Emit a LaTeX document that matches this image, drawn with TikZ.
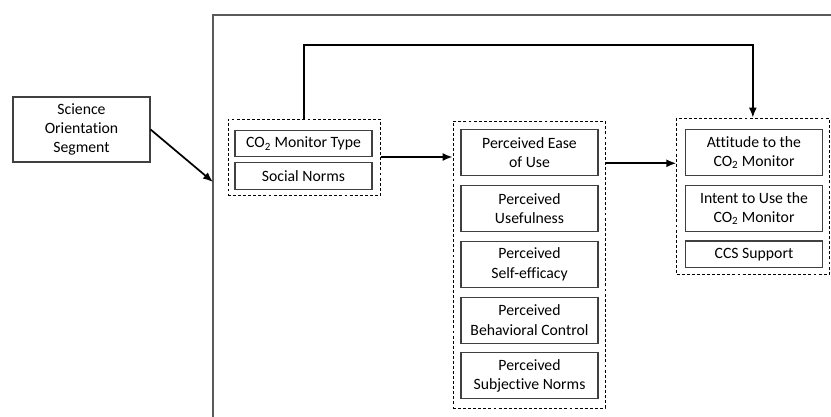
\documentclass[tikz,border=0pt]{standalone}
\usepackage{fontspec}
\setmainfont{Carlito}[Ligatures=NoCommon]
\usetikzlibrary{arrows.meta,fit}

\begin{document}
\begin{tikzpicture}[x=0.75pt,y=-0.75pt,
    box/.style={draw=black!75,line width=0.8pt,align=center,inner sep=0pt,
      minimum width=102.75pt,font=\fontsize{11.8}{14.3}\selectfont},
    flat/.style={box,minimum height=20pt},
    tall/.style={box,minimum height=34.5pt},
    grp/.style={draw,dashed,dash pattern=on 2.2pt off 1.6pt,line width=0.6pt,inner sep=0pt},
    arr/.style={line width=1.3pt,-{Latex[length=7.5pt,width=6pt]}}]
  \useasboundingbox (0,0) rectangle (831,417);
  % outer frame
  \draw[black!65,line width=0.9pt] (213,417) -- (213,15) -- (831,15);
  \node[box,minimum height=48.75pt] (sci) at (81.5,129.5) {Science\\Orientation\\Segment};
  \coordinate (fin) at (213,182);
  % first group
  \node[flat] (type) at (303.5,143.5) {CO\textsubscript{2} Monitor Type};
  \node[flat] (norms) at (303.5,176) {Social Norms};
  \node[grp,fit={(228,119) (380.7,195)}] (g1) {};
  % second group
  \node[tall] (ease) at (529.5,152.7) {Perceived Ease\\of Use};
  \node[tall] (useful) at (529.5,208.5) {Perceived\\Usefulness};
  \node[tall] (self) at (529.5,264.3) {Perceived\\Self-efficacy};
  \node[tall] (behav) at (529.5,320.1) {Perceived\\Behavioral Control};
  \node[tall] (subj) at (529.5,375.9) {Perceived\\Subjective Norms};
  \node[grp,fit={(453,121) (605,408)}] (g2) {};
  % third group
  \node[tall] (att) at (754,152.6) {Attitude to the\\CO\textsubscript{2} Monitor};
  \node[tall] (intent) at (754,208.7) {Intent to Use the\\CO\textsubscript{2} Monitor};
  \node[flat] (ccs) at (754,254.3) {CCS Support};
  \node[grp,fit={(676.7,118) (829,274.3)}] (g3) {};
  % connectors
  \draw[arr] (sci.east) -- (fin);
  \draw[arr] (g1.east) -- (g1.east -| g2.west);
  \draw[arr] (g2.east |- 0,163.3) -- (g3.west |- 0,163.3);
  \draw[arr] (g1.north) -- ++(0,-73.3) -| (g3.north);
\end{tikzpicture}
\end{document}
